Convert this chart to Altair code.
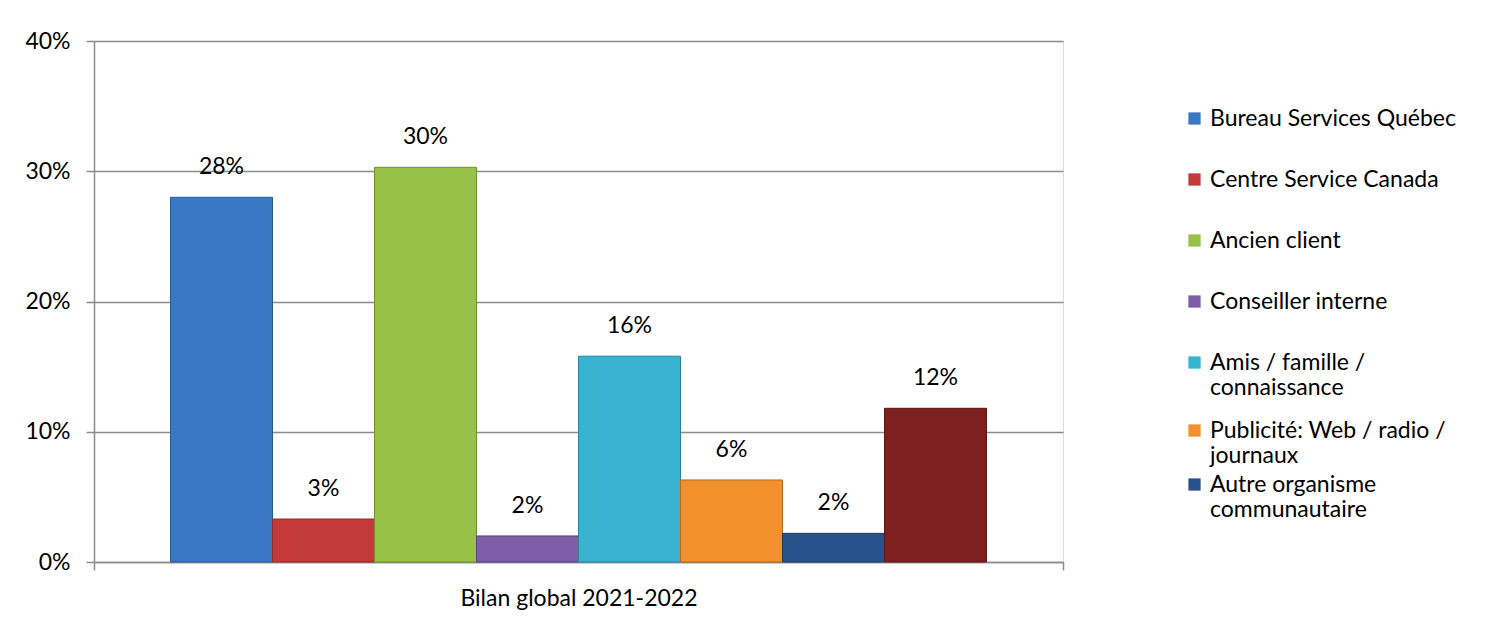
import altair as alt
import pandas as pd

group_label = "Bilan global 2021-2022"
series = [
    "Bureau Services Québec",
    "Centre Service Canada",
    "Ancien client",
    "Conseiller interne",
    "Amis / famille / connaissance",
    "Publicité: Web / radio / journaux",
    "Autre organisme communautaire",
    "Autre",
]
values = [0.280, 0.033, 0.303, 0.020, 0.158, 0.063, 0.022, 0.118]
colors = ["#3A78C4", "#C43A3A", "#98C148", "#7E5CA8", "#38B4D0", "#F2902E", "#28528A", "#7E2020"]
edge_colors = ["#2A5A94", "#942A2A", "#70902F", "#5C427E", "#28869C", "#B66A1E", "#1A3A64", "#5A1414"]
legend_part1 = series[:5]
legend_part2 = series[5:7]

df = pd.DataFrame({"groupe": group_label, "source": series, "part": values})

FONT = "Lato"
FS = 23

label_expr = (
    "datum.label == 'Amis / famille / connaissance' ? ['Amis / famille /', 'connaissance'] : "
    "datum.label == 'Publicité: Web / radio / journaux' ? ['Publicité: Web / radio /', 'journaux'] : "
    "datum.label == 'Autre organisme communautaire' ? ['Autre organisme', 'communautaire'] : datum.label"
)

legend_common = dict(
    title=None, orient="none", symbolType="square", symbolSize=150, symbolStrokeWidth=0,
    symbolOpacity=1, labelFont=FONT, labelFontSize=FS, labelColor="#000000", labelLimit=400,
    labelExpr=label_expr,
)

x_enc = alt.X(
    "groupe:N",
    title=None,
    scale=alt.Scale(paddingInner=0, paddingOuter=0),
    axis=alt.Axis(
        labelAngle=0, tickBand="extent", tickSize=8, tickColor="#8C8C8C",
        domainColor="#8C8C8C", domainWidth=1.5, tickWidth=1.5, labelLimit=600,
        labelFontSize=FS, labelFont=FONT, labelColor="#000000", labelPadding=17, grid=False,
    ),
)
xo_enc = alt.XOffset("source:N", sort=series, scale=alt.Scale(paddingInner=0, paddingOuter=0.75))
y_enc = alt.Y(
    "part:Q",
    title=None,
    scale=alt.Scale(domain=[0, 0.4]),
    axis=alt.Axis(
        values=[0, 0.1, 0.2, 0.3, 0.4], format=".0%", tickSize=8, tickColor="#8C8C8C",
        domainColor="#8C8C8C", domainWidth=1.5, tickWidth=1.5, gridColor="#8C8C8C",
        gridWidth=1.5, labelFontSize=FS, labelFont=FONT, labelColor="#000000", labelPadding=16,
    ),
)

base = alt.Chart(df).encode(x=x_enc, xOffset=xo_enc)

bars = base.mark_bar(strokeWidth=1).encode(
    y=y_enc,
    color=alt.Color(
        "source:N",
        sort=series,
        scale=alt.Scale(domain=series, range=colors),
        legend=alt.Legend(values=legend_part1, legendX=1089, legendY=66, rowPadding=37, **legend_common),
    ),
    stroke=alt.Stroke("source:N", sort=series, scale=alt.Scale(domain=series, range=edge_colors), legend=None),
)

# second part of the legend (entries that Excel packs more tightly)
legend_layer = (
    base.transform_filter(alt.FieldOneOfPredicate(field="source", oneOf=legend_part2))
    .mark_bar(opacity=0)
    .encode(
        y=alt.Y("part:Q"),
        fill=alt.Fill(
            "source:N",
            sort=legend_part2,
            scale=alt.Scale(domain=legend_part2, range=colors[5:7]),
            legend=alt.Legend(legendX=1089, legendY=378, rowPadding=5, **legend_common),
        ),
    )
)

labels = base.mark_text(fontSize=FS, font=FONT, color="#000000", dy=-30).encode(
    y=alt.Y("part:Q"),
    text=alt.Text("part:Q", format=".0%"),
)

chart = (
    alt.layer(bars, legend_layer, labels)
    .properties(width=969, height=521, padding={"left": 16, "top": 22, "right": 5, "bottom": 5})
    .configure_view(stroke=None)
    .configure(background="white")
)

chart.save("out.html", embed_options={"renderer": "svg", "actions": False})
